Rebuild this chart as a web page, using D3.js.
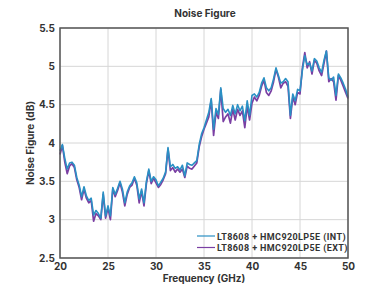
<!DOCTYPE html>
<html>
<head>
<meta charset="utf-8">
<script src="https://cdnjs.cloudflare.com/ajax/libs/d3/7.8.5/d3.min.js"></script>
<style>
  body { margin: 0; background: #fff; }
  svg text { font-family: Inter, Roboto, sans-serif; fill: #333; }
</style>
</head>
<body>
<div id="chart"></div>
<script>
// frequency points (GHz)
var freq = [
  20, 20.25, 20.5, 20.75, 21, 21.25, 21.5, 21.75, 22, 22.25, 22.5, 22.75,
  23, 23.25, 23.5, 23.75, 24, 24.25, 24.5, 24.75, 25, 25.25, 25.5, 25.75,
  26, 26.25, 26.5, 26.75, 27, 27.25, 27.5, 27.75, 28, 28.25, 28.5, 28.75,
  29, 29.25, 29.5, 29.75, 30, 30.25, 30.5, 30.75, 31, 31.25, 31.5, 31.75,
  32, 32.25, 32.5, 32.75, 33, 33.25, 33.5, 33.75, 34, 34.25, 34.5, 34.75,
  35, 35.25, 35.5, 35.75, 36, 36.25, 36.5, 36.75, 37, 37.25, 37.5, 37.75,
  38, 38.25, 38.5, 38.75, 39, 39.25, 39.5, 39.75, 40, 40.25, 40.5, 40.75,
  41, 41.25, 41.5, 41.75, 42, 42.25, 42.5, 42.75, 43, 43.25, 43.5, 43.75,
  44, 44.25, 44.5, 44.75, 45, 45.25, 45.5, 45.75, 46, 46.25, 46.5, 46.75,
  47, 47.25, 47.5, 47.75, 48, 48.25, 48.5, 48.75, 49, 49.25, 49.5, 49.75, 50
];

var nfInt = [
  3.90, 3.98, 3.80, 3.66, 3.74, 3.75, 3.71, 3.55, 3.45, 3.30, 3.43, 3.31,
  3.25, 3.28, 3.06, 3.12, 3.08, 3.02, 3.36, 3.05, 3.18, 3.05, 3.42, 3.33,
  3.41, 3.50, 3.40, 3.22, 3.36, 3.44, 3.48, 3.56, 3.48, 3.27, 3.40, 3.22,
  3.50, 3.66, 3.50, 3.56, 3.52, 3.44, 3.49, 3.54, 3.62, 3.94, 3.69, 3.72,
  3.67, 3.69, 3.65, 3.71, 3.57, 3.74, 3.72, 3.71, 3.74, 3.77, 3.98, 4.12,
  4.20, 4.30, 4.40, 4.58, 4.18, 4.45, 4.37, 4.72, 4.45, 4.40, 4.44, 4.36,
  4.49, 4.38, 4.50, 4.42, 4.48, 4.29, 4.55, 4.36, 4.62, 4.64, 4.60, 4.66,
  4.78, 4.85, 4.72, 4.68, 4.72, 4.84, 4.98, 4.88, 4.78, 4.80, 4.84, 4.80,
  4.36, 4.64, 4.55, 4.70, 4.68, 4.95, 5.14, 5.02, 5.04, 4.94, 5.10, 5.07,
  4.98, 4.92, 5.08, 5.20, 4.85, 4.82, 4.86, 4.62, 4.90, 4.85, 4.78, 4.70, 4.60
];

var nfExt = [
  3.85, 3.97, 3.75, 3.60, 3.70, 3.73, 3.68, 3.52, 3.42, 3.26, 3.40, 3.28,
  3.22, 3.25, 2.98, 3.08, 3.05, 3.00, 3.33, 3.02, 3.15, 3.00, 3.40, 3.30,
  3.38, 3.48, 3.36, 3.18, 3.33, 3.42, 3.45, 3.54, 3.45, 3.22, 3.37, 3.18,
  3.47, 3.64, 3.47, 3.54, 3.48, 3.42, 3.46, 3.52, 3.60, 3.92, 3.64, 3.68,
  3.62, 3.66, 3.62, 3.66, 3.55, 3.70, 3.67, 3.66, 3.70, 3.74, 3.95, 4.08,
  4.18, 4.26, 4.34, 4.56, 4.10, 4.40, 4.32, 4.70, 4.28, 4.34, 4.38, 4.26,
  4.44, 4.30, 4.44, 4.36, 4.42, 4.20, 4.48, 4.30, 4.52, 4.60, 4.55, 4.62,
  4.74, 4.82, 4.66, 4.62, 4.68, 4.80, 4.96, 4.86, 4.72, 4.78, 4.80, 4.74,
  4.32, 4.60, 4.50, 4.66, 4.64, 4.98, 5.18, 4.98, 5.06, 4.90, 5.08, 5.04,
  4.94, 4.88, 5.04, 5.20, 4.80, 4.84, 4.80, 4.56, 4.88, 4.82, 4.74, 4.66, 4.58
];

var xTicks = [20, 25, 30, 35, 40, 45, 50];
var yTicks = [2.5, 3, 3.5, 4, 4.5, 5, 5.5];
var seriesNames = ['LT8608 + HMC920LP5E (INT)', 'LT8608 + HMC920LP5E (EXT)'];
var seriesColors = ['#2a90c4', '#7a3fa3'];

var width = 390,
    height = 292,
    margins = { top: 28, right: 42, bottom: 34, left: 60 };

var svg = d3.select('#chart').append('svg')
  .attr('width', width)
  .attr('height', height);

var x = d3.scaleLinear()
  .domain([20, 50])
  .range([margins.left, width - margins.right]);

var y = d3.scaleLinear()
  .domain([2.5, 5.5])
  .range([height - margins.bottom, margins.top]);

// grid
svg.append('g')
  .selectAll('line.vg')
  .data(xTicks)
  .enter().append('line')
  .attr('x1', function(d) { return x(d); })
  .attr('x2', function(d) { return x(d); })
  .attr('y1', y(2.5))
  .attr('y2', y(5.5))
  .attr('stroke', '#d6d6d6')
  .attr('stroke-width', 1);

svg.append('g')
  .selectAll('line.hg')
  .data(yTicks)
  .enter().append('line')
  .attr('x1', x(20))
  .attr('x2', x(50))
  .attr('y1', function(d) { return y(d); })
  .attr('y2', function(d) { return y(d); })
  .attr('stroke', '#d6d6d6')
  .attr('stroke-width', 1);

// axes
var xAxis = d3.axisBottom(x).tickValues(xTicks).tickSize(0).tickPadding(5)
  .tickFormat(d3.format('d'));
var yAxis = d3.axisLeft(y).tickValues(yTicks).tickSize(0).tickPadding(5)
  .tickFormat(function(d) { return d; });

var gx = svg.append('g')
  .attr('transform', 'translate(0,' + y(2.5) + ')')
  .call(xAxis);
var gy = svg.append('g')
  .attr('transform', 'translate(' + x(20) + ',0)')
  .call(yAxis);

[gx, gy].forEach(function(g) {
  g.select('.domain').remove();
  g.selectAll('text')
    .attr('font-size', 10)
    .attr('font-weight', 700)
    .attr('fill', '#333')
    .style('font-family', 'Inter, Roboto, sans-serif');
});

// lines
var line = d3.line()
  .x(function(d, i) { return x(freq[i]); })
  .y(function(d) { return y(d); });

svg.append('path')
  .attr('d', line(nfExt))
  .attr('fill', 'none')
  .attr('stroke', seriesColors[1])
  .attr('stroke-width', 1.7)
  .attr('stroke-linejoin', 'round');

svg.append('path')
  .attr('d', line(nfInt))
  .attr('fill', 'none')
  .attr('stroke', seriesColors[0])
  .attr('stroke-width', 1.6)
  .attr('stroke-linejoin', 'round');

// frame
svg.append('rect')
  .attr('x', x(20))
  .attr('y', y(5.5))
  .attr('width', x(50) - x(20))
  .attr('height', y(2.5) - y(5.5))
  .attr('fill', 'none')
  .attr('stroke', '#555')
  .attr('stroke-width', 1.5);

// titles
svg.append('text')
  .attr('x', 205)
  .attr('y', 17)
  .attr('text-anchor', 'middle')
  .attr('font-size', 10)
  .attr('font-weight', 700)
  .text('Noise Figure');

svg.append('text')
  .attr('x', 204)
  .attr('y', 282)
  .attr('text-anchor', 'middle')
  .attr('font-size', 10)
  .attr('font-weight', 700)
  .text('Frequency (GHz)');

svg.append('text')
  .attr('transform', 'translate(34,' + ((y(2.5) + y(5.5)) / 2) + ') rotate(-90)')
  .attr('text-anchor', 'middle')
  .attr('font-size', 10)
  .attr('font-weight', 700)
  .text('Noise Figure (dB)');

// legend
var legend = svg.append('g');
seriesNames.forEach(function(name, i) {
  var ly = 236 + i * 11.5;
  legend.append('line')
    .attr('x1', 197).attr('x2', 215)
    .attr('y1', ly).attr('y2', ly)
    .attr('stroke', seriesColors[i])
    .attr('stroke-width', 1.2);
  legend.append('text')
    .attr('x', 217)
    .attr('y', ly + 3.5)
    .attr('font-size', 9)
    .attr('font-weight', 700)
    .attr('letter-spacing', 0.4)
    .style('font-family', 'Roboto, sans-serif')
    .text(name);
});
</script>
</body>
</html>
